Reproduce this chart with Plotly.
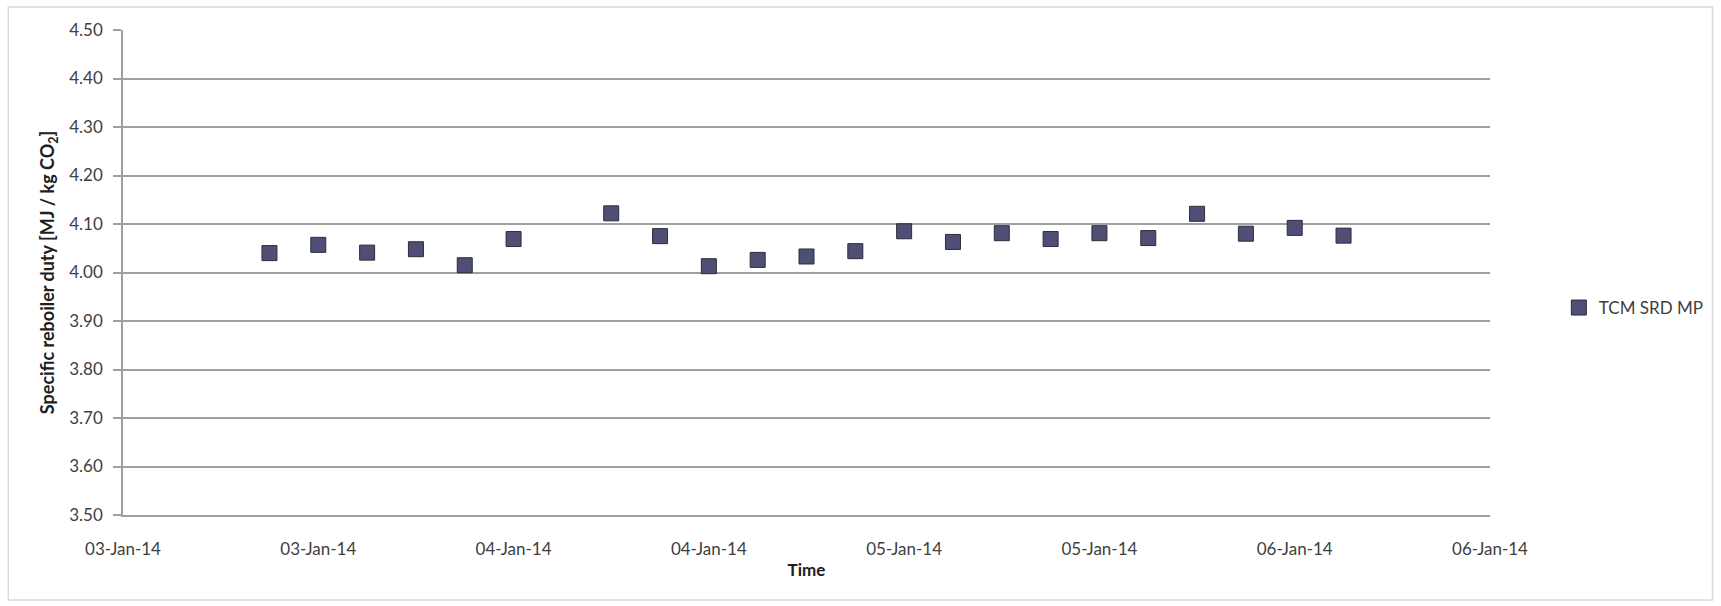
import plotly.graph_objects as go

# ---- data ----
times = [
    "2014-01-03 09:00", "2014-01-03 12:00", "2014-01-03 15:00", "2014-01-03 18:00",
    "2014-01-03 21:00", "2014-01-04 00:00", "2014-01-04 06:00", "2014-01-04 09:00",
    "2014-01-04 12:00", "2014-01-04 15:00", "2014-01-04 18:00", "2014-01-04 21:00",
    "2014-01-05 00:00", "2014-01-05 03:00", "2014-01-05 06:00", "2014-01-05 09:00",
    "2014-01-05 12:00", "2014-01-05 15:00", "2014-01-05 18:00", "2014-01-05 21:00",
    "2014-01-06 00:00", "2014-01-06 03:00",
]
srd_values = [
    4.040, 4.057, 4.041, 4.048, 4.015, 4.069, 4.122, 4.075,
    4.013, 4.026, 4.033, 4.044, 4.085, 4.063, 4.081, 4.069,
    4.081, 4.071, 4.121, 4.080, 4.092, 4.076,
]
x_tick_vals = [
    "2014-01-03 00:00", "2014-01-03 12:00", "2014-01-04 00:00", "2014-01-04 12:00",
    "2014-01-05 00:00", "2014-01-05 12:00", "2014-01-06 00:00", "2014-01-06 12:00",
]
series_name = "TCM SRD MP"
y_title = "<b>Specific reboiler duty [MJ / kg CO<sub>2</sub>]</b>"
x_title = "<b>Time</b>"

FONT = "Lato"
TXT = "#404040"
GRID = "#a0a0a0"

W, H = 1721, 606
ML, MR, MT, MB = 123, 228, 30, 91
PW, PH = W - ML - MR, H - MT - MB

fig = go.Figure()
fig.add_trace(go.Scatter(
    x=times, y=srd_values, mode="markers", name=series_name,
    marker=dict(symbol="square", size=15, color="#4f4f76",
                line=dict(color="#2c2c3c", width=1)),
    showlegend=True,
))

# chart-area border (pixel -> paper)
def px2x(px):
    return (px - ML) / PW

def py2y(py):
    return (H - MB - py) / PH

fig.add_shape(type="rect", xref="paper", yref="paper",
              x0=px2x(8), x1=px2x(1716), y0=py2y(600), y1=py2y(7),
              line=dict(color="#d9d9d9", width=1.5), fillcolor="rgba(0,0,0,0)",
              layer="below")

fig.update_layout(
    width=W, height=H,
    margin=dict(l=ML, r=MR, t=MT, b=MB, pad=0),
    paper_bgcolor="white", plot_bgcolor="white",
    font=dict(family=FONT, size=17, color=TXT),
    showlegend=True,
    legend=dict(x=px2x(1562), y=py2y(308), xanchor="left", yanchor="middle",
                bgcolor="rgba(0,0,0,0)", font=dict(size=17, color=TXT),
                itemwidth=30, tracegroupgap=0),
    xaxis=dict(
        type="date",
        range=[x_tick_vals[0], x_tick_vals[-1]],
        tickmode="array", tickvals=x_tick_vals,
        tickformat="%d-%b-%y",
        showgrid=False, zeroline=False,
        showline=True, linecolor=GRID, linewidth=1.5,
        ticks="", ticklabelstandoff=18,
        tickfont=dict(size=17, color=TXT),
        title=dict(text=x_title, font=dict(size=17, color="#202020"), standoff=6),
    ),
    yaxis=dict(
        range=[3.5, 4.5], dtick=0.1, tick0=3.5, tickformat=".2f",
        showgrid=True, gridcolor=GRID, gridwidth=1.5,
        zeroline=False,
        showline=True, linecolor=GRID, linewidth=1.5,
        ticks="outside", ticklen=8, tickcolor=GRID, tickwidth=1.5,
        ticklabelstandoff=7,
        tickfont=dict(size=17, color=TXT),
        title=dict(text=y_title, font=dict(size=18, color="#202020"), standoff=10),
    ),
)

fig.write_html("out.html")
